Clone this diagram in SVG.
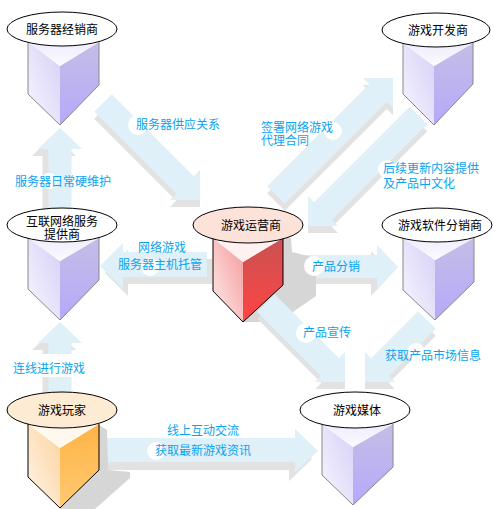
<svg xmlns="http://www.w3.org/2000/svg" width="494" height="509" viewBox="0 0 494 509">
<defs>
<style>
.arr{fill:#dff0f8}
.sh{fill:#e2e2e2}
.nsh{fill:#d6d6d6}
.wb{fill:#ffffff}
.lb{font-family:"Noto Sans CJK SC","Noto Sans CJK JP",sans-serif;font-size:12px;fill:#0aa3ee}
.nt{font-family:"Noto Sans CJK SC","Noto Sans CJK JP",sans-serif;font-size:12px;fill:#000;text-anchor:middle}
.el{fill:#fff;stroke:#000;stroke-width:1}
.op{fill:#ff00ff;fill-opacity:0}
.pout{fill:none;stroke:#888;stroke-width:1}
.kout{fill:none;stroke:#000;stroke-width:1}
</style>
<linearGradient id="pl" x1="1" y1="0" x2="0" y2="1"><stop offset="0" stop-color="#d5d0f6"/><stop offset="1" stop-color="#f7f6ff"/></linearGradient>
<linearGradient id="pr" x1="0" y1="0" x2="0" y2="1"><stop offset="0" stop-color="#c4bee6"/><stop offset="1" stop-color="#b5a9fa"/></linearGradient>
<linearGradient id="pt" x1="0" y1="0" x2="0" y2="1"><stop offset="0" stop-color="#eeecfb"/><stop offset="1" stop-color="#fbfbff"/></linearGradient>
<linearGradient id="rl" x1="1" y1="0" x2="0" y2="1"><stop offset="0" stop-color="#f39a9a"/><stop offset="1" stop-color="#ffecec"/></linearGradient>
<linearGradient id="rr" x1="0" y1="0" x2="0" y2="1"><stop offset="0" stop-color="#c95252"/><stop offset="1" stop-color="#ff4444"/></linearGradient>
<linearGradient id="ol" x1="1" y1="0" x2="0" y2="1"><stop offset="0" stop-color="#fcd39c"/><stop offset="1" stop-color="#fff5ea"/></linearGradient>
<linearGradient id="or" x1="0" y1="0" x2="0" y2="1"><stop offset="0" stop-color="#ffb347"/><stop offset="1" stop-color="#ffca72"/></linearGradient>
<polygon id="a1" points="60,128 82,149 71.5,149 71.5,210 48.5,210 48.5,149 38,149"/>
<polygon id="a9" points="60,322 82,343 71.5,343 71.5,396 48.5,396 48.5,343 38,343"/>
<polygon id="a2" points="111.8,94.2 193.8,176.2 200,170 200,200 170,200 176.2,193.8 94.2,111.8"/>
<polygon id="a3" points="267.2,186.2 369.2,84.2 363,78 393,78 393,108 386.9,101.9 284.8,203.8"/>
<polygon id="a4" points="409.7,106.7 427.3,124.3 331.9,219.9 338,226 308,226 308,196 314.2,202.2"/>
<polygon id="a5" points="100,266 123,243 123,252 207,252 207,277 123,277 123,289"/>
<polygon id="a6" points="398,267 377,245 377,255 294,255 294,278 377,278 377,290"/>
<polygon id="a7" points="274.8,294.2 338.9,358.2 345,352 345,382 315,382 321.2,375.9 257.2,311.8"/>
<polygon id="a8" points="418.2,311.2 435.8,328.8 388.9,375.9 395,382 365,382 365,352 371.2,358.2"/>
<polygon id="a10" points="318,451 295,429 295,438 106,438 106,462 295,462 295,473"/>
</defs>
<rect width="494" height="509" fill="#fff"/>
<g id="connectors">
<use href="#a1" class="sh" transform="translate(-6,7)"/><use href="#a1" class="arr"/>
<use href="#a9" class="sh" transform="translate(-6,7)"/><use href="#a9" class="arr"/>
<use href="#a2" class="sh" transform="translate(0,7)"/><use href="#a2" class="arr"/>
<use href="#a3" class="sh" transform="translate(0,7)"/><use href="#a3" class="arr"/>
<use href="#a4" class="sh" transform="translate(0,7)"/><use href="#a4" class="arr"/>
<use href="#a5" class="sh" transform="translate(5,7)"/><use href="#a5" class="arr"/>
<use href="#a6" class="sh" transform="translate(-6,6)"/><use href="#a6" class="arr"/>
<use href="#a8" class="sh" transform="translate(0,7)"/><use href="#a8" class="arr"/>
<use href="#a10" class="sh" transform="translate(-6,8)"/><use href="#a10" class="arr"/>
<polygon class="nsh" points="283,236 291,238 292,252 316,258 316,296 290,314 262,322 243,322"/>
<polygon class="nsh" points="99,425 107,430 108,470 130,472 130,478 95,509 60,509"/>
<use href="#a7" class="sh" transform="translate(0,7)"/><use href="#a7" class="arr"/>
</g>
<g id="n1">
<polygon fill="url(#pl)" points="28,42 60,66 60,125 28,94"/>
<polygon fill="url(#pr)" points="60,66 99,42 99,85 60,125"/>
<polygon fill="url(#pt)" points="28,42 99,42 60,66"/>
<path class="pout" d="M28,42 V94 L60,125 L99,85 V42"/>
<ellipse class="el" cx="62" cy="29" rx="55" ry="17"/>
<text class="nt" x="62" y="33.5">服务器经销商</text>
</g>
<g id="n2">
<polygon fill="url(#pl)" points="403,43 434,66 434,125 403,94"/>
<polygon fill="url(#pr)" points="434,66 473,43 473,84 434,125"/>
<polygon fill="url(#pt)" points="403,43 473,43 434,66"/>
<path class="pout" d="M403,43 V94 L434,125 L473,84 V43"/>
<ellipse class="el" cx="436" cy="30" rx="54" ry="17"/>
<text class="nt" x="438" y="34.5">游戏开发商</text>
</g>
<g id="n3">
<polygon fill="url(#pl)" points="28,238 60,261 60,320 28,289"/>
<polygon fill="url(#pr)" points="60,261 99,238 99,280 60,320"/>
<polygon fill="url(#pt)" points="28,238 99,238 60,261"/>
<path class="pout" d="M28,238 V289 L60,320 L99,280 V238"/>
<ellipse class="el" cx="62" cy="225" rx="55" ry="17"/>
<text class="nt" x="62" y="225.5">互联网络服务</text>
<text class="nt" x="62" y="238.5">提供商</text>
</g>
<g id="n4">
<polygon fill="url(#rl)" points="213,238 243,262 243,322 213,291"/>
<polygon fill="url(#rr)" points="243,262 283,238 283,285 243,322"/>
<polygon fill="#fff1f1" points="213,238 283,238 243,262"/>
<path class="kout" d="M213,238 V291 L243,322 L283,285 V238"/>
<ellipse class="el" style="fill:#fde2da" cx="248" cy="225" rx="55" ry="18"/>
<text class="nt" x="251" y="229.5">游戏运营商</text>
</g>
<g id="n5">
<polygon fill="url(#pl)" points="403,238 435,260 435,320 403,290"/>
<polygon fill="url(#pr)" points="435,260 474,238 474,282 435,320"/>
<polygon fill="url(#pt)" points="403,238 474,238 435,260"/>
<path class="pout" d="M403,238 V290 L435,320 L474,282 V238"/>
<ellipse class="el" cx="437" cy="225" rx="55" ry="17"/>
<text class="nt" x="440" y="229.5">游戏软件分销商</text>
</g>
<g id="n6">
<polygon fill="url(#ol)" points="28,424 60,448 60,508 28,477"/>
<polygon fill="url(#or)" points="60,448 99,424 99,470 60,508"/>
<polygon fill="#fff8ef" points="28,424 99,424 60,448"/>
<path class="kout" d="M28,424 V477 L60,508 L99,470 V424"/>
<ellipse class="el" style="fill:#fdebd3" cx="62" cy="410" rx="55" ry="18"/>
<text class="nt" x="62" y="414.5">游戏玩家</text>
</g>
<g id="n7">
<polygon fill="url(#pl)" points="322,424 353,447 353,505 322,475"/>
<polygon fill="url(#pr)" points="353,447 393,424 393,467 353,505"/>
<polygon fill="url(#pt)" points="322,424 393,424 353,447"/>
<path class="pout" d="M322,424 V475 L353,505 L393,467 V424"/>
<ellipse class="el" cx="355" cy="410" rx="55" ry="18"/>
<text class="nt" x="357" y="414.5">游戏媒体</text>
</g>
<g id="labels">
<circle class="wb" cx="138" cy="125" r="10"/>
<circle class="wb" cx="49" cy="181" r="8"/>
<circle class="wb" cx="150" cy="267" r="9"/>
<circle class="wb" cx="314" cy="266" r="10"/>
<circle class="wb" cx="306" cy="333" r="10"/>
<circle class="wb" cx="416" cy="352" r="9"/>
<circle class="wb" cx="333" cy="131" r="9"/>
<circle class="wb" cx="387" cy="169" r="9"/>
<circle class="wb" cx="156" cy="451" r="9"/>
<rect class="wb" x="11" y="354" width="76" height="23" rx="6"/>
<text class="lb" x="136" y="128.5">服务器供应关系</text>
<text class="lb" x="15" y="185.5">服务器日常硬维护</text>
<text class="lb" x="261" y="131.5">签署网络游戏</text>
<text class="lb" x="261" y="144.5">代理合同</text>
<text class="lb" x="383" y="172.5">后续更新内容提供</text>
<text class="lb" x="383" y="187.5">及产品中文化</text>
<text class="lb" x="138" y="251.5">网络游戏</text>
<text class="lb" x="118" y="269">服务器主机托管</text>
<text class="lb" x="312" y="270.5">产品分销</text>
<text class="lb" x="303" y="336.5">产品宣传</text>
<text class="lb" x="385" y="359.5">获取产品市场信息</text>
<text class="lb" x="13" y="372.5">连线进行游戏</text>
<text class="lb" x="167" y="434.5">线上互动交流</text>
<text class="lb" x="155" y="454.5">获取最新游戏资讯</text>
</g>
</svg>
